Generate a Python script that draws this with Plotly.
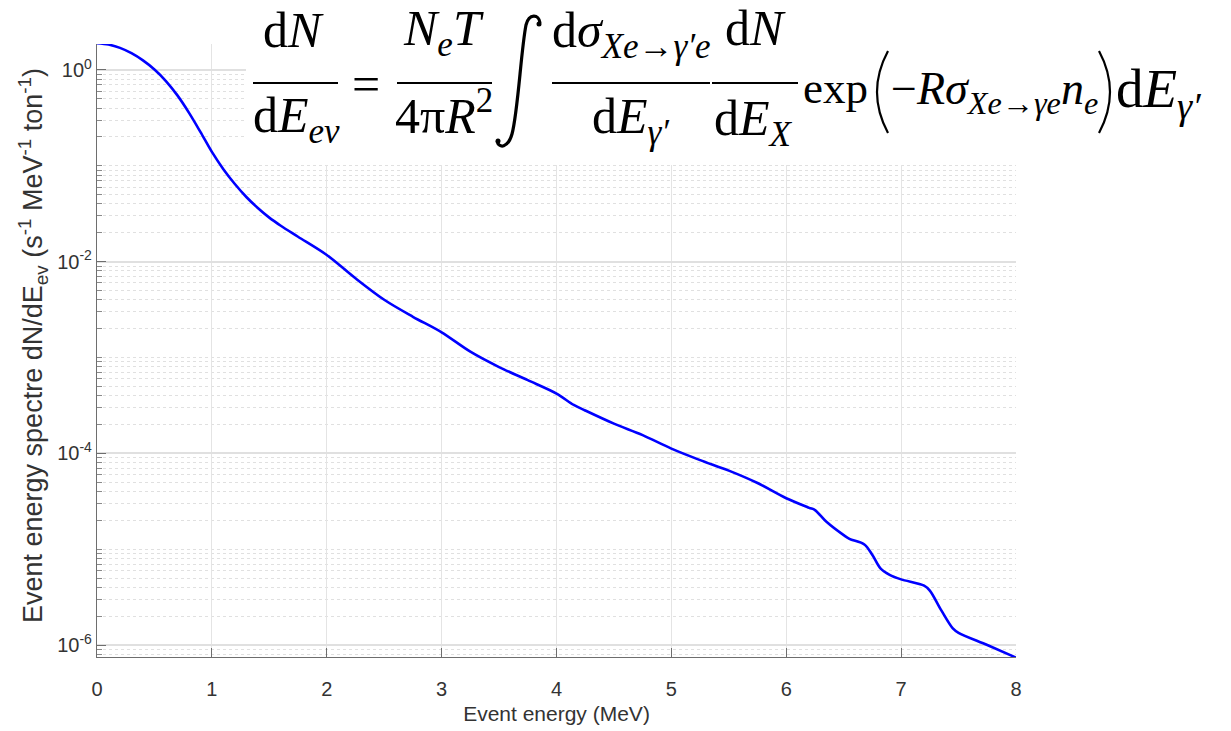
import plotly.graph_objects as go

# Event energy spectrum (MeV, s^-1 MeV^-1 ton^-1)
energy = [0.0, 0.1, 0.2, 0.3, 0.4, 0.5, 0.6, 0.7, 0.8, 0.9, 1.0, 1.1, 1.2, 1.3,
          1.4, 1.5, 1.6, 1.75, 2.0, 2.25, 2.5, 2.75, 3.0, 3.25, 3.5, 3.75,
          4.0, 4.15, 4.25, 4.5, 4.75, 5.0, 5.25, 5.5, 5.75, 6.0, 6.2, 6.25,
          6.35, 6.5, 6.55, 6.68, 6.75, 6.82, 6.9, 7.0, 7.2, 7.25, 7.35, 7.45,
          7.5, 7.75, 8.0]
spectrum = [1.90, 1.84, 1.70, 1.496, 1.259, 1.012, 0.767, 0.543, 0.359, 0.226,
            0.1396, 0.0923, 0.0646, 0.0473, 0.0363, 0.0288, 0.0237, 0.0182,
            0.01175, 6.7e-3, 4.0e-3, 2.66e-3, 1.83e-3, 1.15e-3, 7.95e-4,
            5.8e-4, 4.2e-4, 3.2e-4, 2.8e-4, 2.04e-4, 1.55e-4, 1.12e-4, 8.5e-5,
            6.6e-5, 4.9e-5, 3.4e-5, 2.7e-5, 2.56e-5, 1.93e-5, 1.4e-5, 1.28e-5,
            1.12e-5, 8.7e-6, 6.3e-6, 5.4e-6, 4.84e-6, 4.17e-6, 3.7e-6, 2.3e-6,
            1.49e-6, 1.34e-6, 1.0e-6, 7.4e-7]

x_ticks = [0, 1, 2, 3, 4, 5, 6, 7, 8]
y_major = [1e0, 1e-2, 1e-4, 1e-6]
y_major_text = ["10<sup>0</sup>", "10<sup>-2</sup>", "10<sup>-4</sup>", "10<sup>-6</sup>"]
y_minor = [m * 10.0 ** k for k in range(-7, 1) for m in range(1, 10)
           if not (m == 1 and k % 2 == 0)]

W, H = 1231, 731
ML, MR, MT, MB = 97, 215, 44, 74
PW, PH = W - ML - MR, H - MT - MB


def px(xp, yp):
    """Pixel position on the page -> paper coordinates."""
    return (xp - ML) / PW, (H - MB - yp) / PH


def path(points_cmd):
    """Build an SVG path in paper units from (command, [(x, y), ...]) pixel steps."""
    out = []
    for cmd, pts in points_cmd:
        coords = " ".join("%.5f,%.5f" % px(a, b) for a, b in pts)
        out.append("%s %s" % (cmd, coords))
    return " ".join(out)


fig = go.Figure()
fig.add_trace(go.Scatter(
    x=energy, y=spectrum, mode="lines",
    line=dict(color="#0000ff", width=2.6, shape="spline", smoothing=0.9),
    showlegend=False, hoverinfo="skip"))

text_col = "#333333"
axis_col = "#6e6e6e"

fig.update_layout(
    width=W, height=H,
    margin=dict(l=ML, r=MR, t=MT, b=MB, autoexpand=False),
    paper_bgcolor="white", plot_bgcolor="white",
    font=dict(family="Liberation Sans, Arial, sans-serif", size=20, color=text_col),
    xaxis=dict(
        range=[0, 8], tickvals=x_ticks, ticks="inside", ticklen=9,
        tickcolor=axis_col, tickwidth=1, showline=True, linecolor=axis_col,
        linewidth=1.2, showgrid=True, gridcolor="#e4e4e4", gridwidth=1,
        zeroline=False, mirror=False, ticklabelstandoff=14,
        tickfont=dict(size=20),
        title=dict(text="Event energy (MeV)", font=dict(size=21, color=text_col),
                   standoff=7),
        automargin=False),
    yaxis=dict(
        type="log", range=[-6.125, 0.271],
        tickvals=y_major, ticktext=y_major_text, tickfont=dict(size=20),
        ticks="inside", ticklen=9, tickcolor=axis_col, tickwidth=1,
        showline=True, linecolor=axis_col, linewidth=1.2,
        showgrid=True, gridcolor="#e0e0e0", gridwidth=1.5, zeroline=False,
        minor=dict(tickmode="array", tickvals=y_minor, ticks="inside",
                   ticklen=5, tickcolor="#8a8a8a", showgrid=True,
                   gridcolor="#e0e0e0", gridwidth=1, griddash="dot"),
        automargin=False),
)

# Y axis title
tx, ty = px(33, 346)
fig.add_annotation(
    text="Event energy spectre dN/dE<sub>ev</sub> (s<sup>-1</sup> MeV<sup>-1</sup> ton<sup>-1</sup>)",
    x=tx, y=ty, xref="paper", yref="paper", textangle=-90,
    xanchor="center", yanchor="middle", showarrow=False,
    font=dict(size=27, color=text_col))

# White panel carrying the formula
x0, y0 = px(246, 165)
x1, y1 = px(W, 0)
fig.add_shape(type="rect", xref="paper", yref="paper", x0=x0, y0=y0, x1=x1, y1=y1,
              fillcolor="white", line=dict(width=0), layer="above")

serif = "Liberation Serif, Times New Roman, serif"
pieces = [
    # text, x, y, size, anchor
    ("d<i>N</i>", 293, 30, 50, "center"),
    ("d<i>E</i><sub><i>ev</i></sub>", 296, 119, 50, "center"),
    ("=", 366, 84, 50, "center"),
    ("<i>N</i><sub><i>e</i></sub><i>T</i>", 443, 32, 50, "center"),
    ("4π<i>R</i><sup>2</sup>", 444, 113, 50, "center"),
    ("d<i>σ</i><sub><i>Xe</i>→<i>γ′e</i></sub>", 631, 34, 50, "center"),
    ("d<i>E</i><sub><i>γ′</i></sub>", 631, 120, 50, "center"),
    ("d<i>N</i>", 755, 28, 50, "center"),
    ("d<i>E</i><sub><i>X</i></sub>", 753, 122, 50, "center"),
    ("exp", 801, 88, 45, "left"),
    ("−<i>Rσ</i><sub><i>Xe</i>→<i>γe</i></sub><i>n</i><sub><i>e</i></sub>", 889, 92, 46, "left"),
    ("d<i>E</i><sub><i>γ′</i></sub>", 1114, 93, 55, "left"),
]
for text, xp, yp, size, anchor in pieces:
    ax, ay = px(xp, yp)
    fig.add_annotation(text=text, x=ax, y=ay, xref="paper", yref="paper",
                       xanchor=anchor, yanchor="middle", showarrow=False,
                       font=dict(family=serif, size=size, color="black"))

# Fraction bars
for xa, xb in [(253, 338), (397, 492), (552, 710), (712, 798)]:
    bx0, by = px(xa, 83)
    bx1, _ = px(xb, 83)
    fig.add_shape(type="line", xref="paper", yref="paper", x0=bx0, y0=by,
                  x1=bx1, y1=by, line=dict(color="black", width=2), layer="above")

# Integral sign and the large parentheses, drawn as thin strokes
integral = path([("M", [(540, 23)]),
                 ("C", [(539, 14), (529, 13), (526, 25)]),
                 ("C", [(521, 50), (518, 112), (512, 134)]),
                 ("C", [(508, 148), (499, 149), (497, 141)])])
left_paren = path([("M", [(888, 51)]), ("Q", [(866, 92), (888, 133)])])
right_paren = path([("M", [(1099, 51)]), ("Q", [(1121, 92), (1099, 133)])])
for p, w in [(integral, 3.2), (left_paren, 2.2), (right_paren, 2.2)]:
    fig.add_shape(type="path", xref="paper", yref="paper", path=p,
                  line=dict(color="black", width=w), layer="above")
for cx, cy in [(539, 24), (498, 141)]:
    a0, b0 = px(cx - 2.5, cy + 2.5)
    a1, b1 = px(cx + 2.5, cy - 2.5)
    fig.add_shape(type="circle", xref="paper", yref="paper", x0=a0, y0=b0,
                  x1=a1, y1=b1, fillcolor="black", line=dict(width=0), layer="above")

fig.write_html("out.html")
